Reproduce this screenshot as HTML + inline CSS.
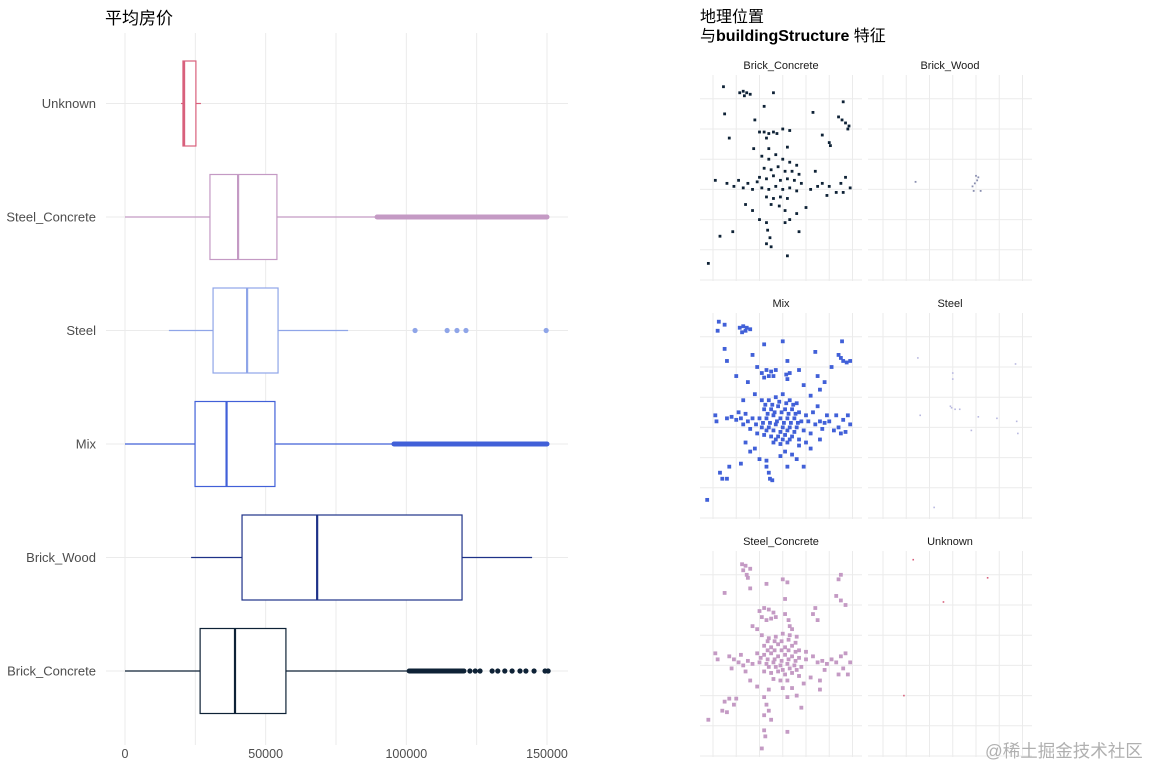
<!DOCTYPE html>
<html><head><meta charset="utf-8">
<style>
html,body{margin:0;padding:0;background:#fff;width:1152px;height:768px;overflow:hidden}
svg{display:block}
text{font-family:"Liberation Sans","Noto Sans CJK SC",sans-serif}
</style></head>
<body>
<svg id="root" width="1152" height="768" viewBox="0 0 1152 768" xmlns="http://www.w3.org/2000/svg">
<text x="105" y="24" font-size="17" fill="#000">平均房价</text>
<text x="700" y="22" font-size="16" fill="#000">地理位置</text>
<text x="700" y="41" font-size="16" fill="#000">与<tspan font-weight="bold">buildingStructure</tspan> 特征</text>
<g id="box"></g>
<g id="facets"></g>
<text x="985" y="757" font-size="17.5" fill="#b0b0b0">@稀土掘金技术社区</text>
</svg>
<script>
// ---- boxplot data ----
const categories = ["Unknown","Steel_Concrete","Steel","Mix","Brick_Wood","Brick_Concrete"];
const colors = ["#d8607c","#c49ac4","#8fa5e8","#4160d8","#1e3288","#0e2236"];
const whiskerLo = [19900, 0, 15600, 0, 23500, 0];
const q1s = [20600, 30200, 31300, 24900, 41600, 26700];
const medians = [21000, 40200, 43400, 36100, 68300, 39100];
const q3s = [25200, 54000, 54400, 53300, 119800, 57200];
const whiskerHi = [27000, 89600, 79300, 95600, 144700, 101000];
const outlierRanges = [null, [89600,150000], null, [95600,150000], null, [101000,120500]];
const outlierPoints = [[], [], [103100,114500,118000,121200,149700], [], [], [122600,124500,126200,130500,132500,135000,137600,140400,142500,145400,149300,150400]];
const xTicks = [0, 50000, 100000, 150000];
const xMinor = [25000, 75000, 125000];

const NS="http://www.w3.org/2000/svg";
function mk(tag, attrs, parent){const e=document.createElementNS(NS,tag);for(const k in attrs)e.setAttribute(k,attrs[k]);parent.appendChild(e);return e;}
const X0=125, XS=422/150000;
const xs = v => X0 + v*XS;
const ys = i => 103.5 + i*113.5;
const box=document.getElementById('box');
[...xTicks,...xMinor].forEach(t=>{
  const l=mk('line',{x1:xs(t),x2:xs(t),y1:33,y2:745,stroke:'#ebebeb','stroke-width':1},box);
  
  
});
categories.forEach((c,i)=>{
  const l=mk('line',{x1:106,x2:568,y1:ys(i),y2:ys(i),stroke:'#ebebeb','stroke-width':1},box);
  
  
});
xTicks.forEach(t=>{
  const tx=mk('text',{x:xs(t),y:758,'font-size':12.5,fill:'#4d4d4d','text-anchor':'middle'},box);
  tx.textContent=t;
  
  
});
categories.forEach((c,i)=>{
  const y=ys(i), col=colors[i], h=42.5;
  const lab=mk('text',{x:96,y:y+4.5,'font-size':13,fill:'#4d4d4d','text-anchor':'end'},box);
  lab.textContent=c;
  
  
  const g=mk('g',{},box);
  
  
  mk('line',{x1:xs(whiskerLo[i]),x2:xs(q1s[i]),y1:y,y2:y,stroke:col,'stroke-width':1.2},g);
  mk('line',{x1:xs(q3s[i]),x2:xs(whiskerHi[i]),y1:y,y2:y,stroke:col,'stroke-width':1.2},g);
  mk('rect',{x:xs(q1s[i]),y:y-h,width:xs(q3s[i])-xs(q1s[i]),height:2*h,fill:'#fff',stroke:col,'stroke-width':1.2},g);
  mk('line',{x1:xs(medians[i]),x2:xs(medians[i]),y1:y-h,y2:y+h,stroke:col,'stroke-width':2.2},g);
  if(outlierRanges[i]){
    const r=outlierRanges[i];
    const o=mk('line',{x1:xs(r[0]),x2:xs(r[1]),y1:y,y2:y,stroke:col,'stroke-width':5,'stroke-linecap':'round'},g);
    
    
  }
  outlierPoints[i].forEach(v=>{
    const p=mk('circle',{cx:xs(v),cy:y,r:2.6,fill:col},g);
    
    
  });
});

// ---- facet scatter data (grid units) ----
const facetNames = ["Brick_Concrete","Brick_Wood","Mix","Steel","Steel_Concrete","Unknown"];
const facetColors = ["#0e2236","#8a8fb0","#4160d8","#b8b8e0","#c49ac4","#d8607c"];
const ptsBrickConcrete = [[1.15,6.2],[1.3,6.25],[1.45,6.2],[1.6,6.15],[1.35,6.1],[0.45,6.4],[0.5,5.5],[2.6,6.2],[2.2,5.75],[1.8,5.3],[0.7,4.7],[2.0,4.9],[2.2,4.9],[2.4,4.85],[2.6,4.9],[2.75,4.85],[2.3,4.7],[1.75,4.35],[2.4,4.35],[3.2,4.4],[3.0,5.0],[3.3,4.95],[4.3,5.55],[5.4,5.4],[5.55,5.3],[5.7,5.2],[5.85,5.1],[5.8,5.0],[5.0,4.55],[5.05,4.45],[5.6,5.9],[4.7,4.8],[2.1,4.1],[2.4,4.0],[2.7,4.15],[3.0,4.0],[3.3,3.9],[3.6,3.8],[2.2,3.7],[2.5,3.65],[2.8,3.75],[3.1,3.6],[3.4,3.6],[3.7,3.5],[2.0,3.4],[2.3,3.35],[2.6,3.45],[2.9,3.3],[3.2,3.35],[3.5,3.3],[3.8,3.2],[2.1,3.05],[2.4,3.0],[2.7,3.1],[3.0,3.0],[3.3,3.05],[3.6,2.95],[2.3,2.75],[2.6,2.7],[2.9,2.75],[3.2,2.7],[2.5,2.5],[2.85,2.45],[3.1,2.3],[0.1,3.3],[0.6,3.2],[0.9,3.1],[1.1,3.3],[1.3,3.05],[1.5,3.2],[1.7,3.0],[1.9,3.25],[4.2,3.0],[4.5,3.1],[4.7,3.2],[5.0,3.1],[5.3,2.9],[5.5,3.2],[5.7,3.4],[5.9,3.05],[5.6,2.9],[4.9,2.8],[4.4,3.6],[1.4,2.5],[1.7,2.3],[3.6,2.2],[4.0,2.4],[3.3,2.0],[3.1,1.9],[2.3,1.9],[2.35,1.65],[2.45,1.4],[2.3,1.2],[2.5,1.1],[2.0,2.0],[3.7,1.6],[0.3,1.45],[0.85,1.6],[3.2,0.8],[-0.2,0.55]];
const ptsBrickWood = [[1.4,3.25],[4.0,3.45],[4.05,3.3],[3.95,3.2],[4.1,3.4],[3.85,3.1],[4.2,2.95],[3.9,2.95]];
const ptsMix = [[2.1,3.9],[2.4,3.9],[2.7,4.0],[3.0,4.1],[3.3,3.9],[3.6,3.8],[2.2,3.6],[2.5,3.6],[2.8,3.7],[3.1,3.6],[3.4,3.6],[3.7,3.5],[4.0,3.4],[2.0,3.3],[2.3,3.3],[2.6,3.4],[2.9,3.3],[3.2,3.3],[3.5,3.3],[3.8,3.2],[4.1,3.2],[2.1,3.0],[2.4,3.0],[2.7,3.1],[3.0,3.0],[3.3,3.0],[3.6,3.0],[3.9,2.9],[2.2,2.75],[2.5,2.7],[2.8,2.7],[3.1,2.75],[3.4,2.7],[3.7,2.6],[2.6,2.5],[2.9,2.45],[3.2,2.5],[2.25,3.75],[2.55,3.75],[2.85,3.85],[3.15,3.8],[3.45,3.75],[2.35,3.45],[2.65,3.5],[2.95,3.5],[3.25,3.45],[3.55,3.45],[2.15,3.15],[2.45,3.15],[2.75,3.2],[3.05,3.15],[3.35,3.15],[3.65,3.15],[2.3,2.9],[2.6,2.9],[2.9,2.85],[3.2,2.9],[3.5,2.85],[2.7,2.6],[3.0,2.6],[3.3,2.6],[2.1,4.8],[2.3,4.9],[2.5,4.85],[2.7,4.9],[2.2,4.65],[2.4,4.7],[2.6,4.7],[3.15,4.75],[3.3,4.8],[3.2,4.6],[1.15,6.3],[1.3,6.35],[1.45,6.3],[1.6,6.25],[1.25,6.15],[1.4,6.2],[0.25,6.5],[0.2,6.2],[0.5,6.4],[0.1,3.4],[0.15,3.2],[0.6,3.3],[0.8,3.35],[1.0,3.25],[1.2,3.3],[1.3,3.1],[1.5,3.2],[1.7,3.3],[1.85,3.1],[1.4,3.45],[1.1,3.5],[1.6,2.95],[1.9,2.8],[4.4,3.1],[4.6,3.2],[4.8,3.15],[5.0,3.2],[4.7,2.95],[5.2,2.9],[5.4,3.0],[5.6,3.25],[5.8,3.4],[5.9,3.1],[5.5,2.8],[5.7,2.85],[5.3,3.4],[4.9,3.4],[4.3,3.5],[4.5,3.7],[4.2,2.8],[4.0,2.5],[5.4,5.4],[5.5,5.3],[5.6,5.2],[5.75,5.15],[5.9,5.2],[5.55,5.85],[5.1,5.0],[3.0,5.85],[2.2,5.75],[1.7,5.4],[3.2,5.2],[4.4,5.5],[4.5,4.7],[3.7,4.9],[4.6,4.25],[4.8,4.5],[1.9,5.0],[1.0,4.7],[0.6,5.2],[0.5,5.6],[1.5,4.5],[1.3,3.9],[1.8,4.1],[3.9,4.4],[4.2,4.05],[2.3,1.7],[2.4,1.5],[2.45,1.3],[2.55,1.25],[2.3,1.9],[2.0,1.95],[3.1,2.2],[3.4,2.1],[3.6,1.95],[3.9,1.7],[3.2,1.7],[2.9,2.05],[1.4,2.5],[1.6,2.2],[1.8,2.3],[4.2,2.3],[3.7,2.4],[4.6,2.6],[0.3,1.5],[0.4,1.3],[0.7,1.7],[0.6,1.3],[1.2,1.8],[-0.25,0.6]];
const ptsSteel = [[1.5,5.3],[5.7,5.1],[3.0,4.8],[3.0,4.6],[2.95,3.65],[3.1,3.6],[3.3,3.6],[2.9,3.7],[1.6,3.4],[4.1,3.35],[4.9,3.3],[3.8,2.9],[5.75,3.2],[5.8,2.8],[2.2,0.35]];
const ptsSteelConcrete = [[1.25,6.35],[1.4,6.3],[1.3,6.15],[1.6,6.2],[1.45,6.0],[1.5,5.9],[2.3,5.7],[3.0,5.85],[3.2,5.75],[1.6,5.55],[0.5,5.4],[3.1,5.2],[5.5,6.0],[5.4,5.85],[5.3,5.3],[5.5,5.15],[5.7,5.0],[4.4,4.9],[4.3,4.7],[4.5,4.5],[2.0,4.8],[2.2,4.9],[2.4,4.85],[2.6,4.75],[2.1,4.6],[2.3,4.5],[2.5,4.55],[2.7,4.6],[3.1,4.7],[3.25,4.5],[3.3,4.3],[1.7,4.3],[1.9,4.2],[2.1,4.0],[2.4,3.9],[2.7,3.95],[3.0,4.05],[3.3,4.0],[3.6,3.95],[3.4,4.2],[2.2,3.65],[2.5,3.6],[2.8,3.7],[3.1,3.6],[3.4,3.65],[3.7,3.5],[4.0,3.45],[1.9,3.4],[2.2,3.35],[2.5,3.4],[2.8,3.3],[3.1,3.35],[3.4,3.3],[3.7,3.25],[4.0,3.2],[4.3,3.3],[2.0,3.1],[2.3,3.05],[2.6,3.1],[2.9,3.0],[3.2,3.05],[3.5,3.0],[3.8,2.95],[2.2,2.8],[2.5,2.75],[2.8,2.8],[3.1,2.7],[3.4,2.75],[3.7,2.65],[2.6,2.55],[2.9,2.5],[3.2,2.5],[2.35,3.8],[2.65,3.8],[2.95,3.8],[3.25,3.85],[3.55,3.75],[2.35,3.5],[2.65,3.5],[2.95,3.5],[3.25,3.5],[3.55,3.45],[2.05,3.25],[2.35,3.2],[2.65,3.2],[2.95,3.15],[3.25,3.2],[3.55,3.15],[2.4,2.95],[2.7,2.95],[3.0,2.85],[3.3,2.9],[3.6,2.85],[0.1,3.4],[0.2,3.2],[0.7,3.3],[0.9,3.2],[1.1,3.1],[1.3,3.0],[1.5,3.15],[1.7,3.05],[1.2,3.35],[0.8,2.9],[1.4,2.8],[4.5,3.1],[4.7,3.15],[4.9,3.05],[5.1,3.2],[5.3,3.1],[5.5,3.3],[5.7,3.4],[5.9,3.1],[5.6,2.9],[5.8,2.7],[5.4,2.7],[4.8,2.85],[4.6,2.5],[4.2,2.6],[3.9,2.4],[3.4,2.25],[3.0,2.25],[3.6,2.0],[3.2,1.95],[3.8,1.6],[2.4,2.2],[2.2,1.95],[2.3,1.7],[2.4,1.5],[2.2,1.35],[2.5,1.2],[1.9,2.3],[1.6,2.5],[0.5,1.8],[0.7,1.9],[0.9,1.7],[0.4,1.5],[0.6,1.45],[1.0,1.9],[-0.2,1.2],[2.2,0.85],[2.25,0.65],[2.1,0.25],[3.2,0.8],[4.6,2.2]];
const ptsUnknown = [[1.3,6.5],[4.5,5.9],[2.6,5.1],[0.9,2.0]];
const facetPoints = [ptsBrickConcrete, ptsBrickWood, ptsMix, ptsSteel, ptsSteelConcrete, ptsUnknown];
const facetDotSize = [2.8, 1.8, 3.8, 1.6, 3.8, 1.6];
const gridIdx = [0,1,2,3,4,5,6];

const colX0=[713,883], colStep=23.25, colBg=[[700,862],[868,1032]];
const rowY0=[280,518,756], rowStep=30.2;
const fg=document.getElementById('facets');
facetNames.forEach((name,k)=>{
  const c=k%2, r=Math.floor(k/2);
  const fx = v => colX0[c] + v*colStep;
  const fy = v => rowY0[r] - v*rowStep;
  const panel=mk('g',{},fg);
  
  
  const top=rowY0[r]-205;
  gridIdx.forEach(g=>{
    mk('line',{x1:fx(g),x2:fx(g),y1:top,y2:rowY0[r]+1,stroke:'#ebebeb','stroke-width':1},panel);
    mk('line',{x1:colBg[c][0],x2:colBg[c][1],y1:fy(g),y2:fy(g),stroke:'#ebebeb','stroke-width':1},panel);
  });
  const st=mk('text',{x:(colBg[c][0]+colBg[c][1])/2,y:top-6,'font-size':11,fill:'#1a1a1a','text-anchor':'middle'},panel);
  st.textContent=name;
  
  
  const s=facetDotSize[k];
  facetPoints[k].forEach(p=>{
    const d=mk('rect',{x:fx(p[0])-s/2,y:fy(p[1])-s/2,width:s,height:s,fill:facetColors[k]},panel);
    
    
  });
});
</script>
</body></html>
